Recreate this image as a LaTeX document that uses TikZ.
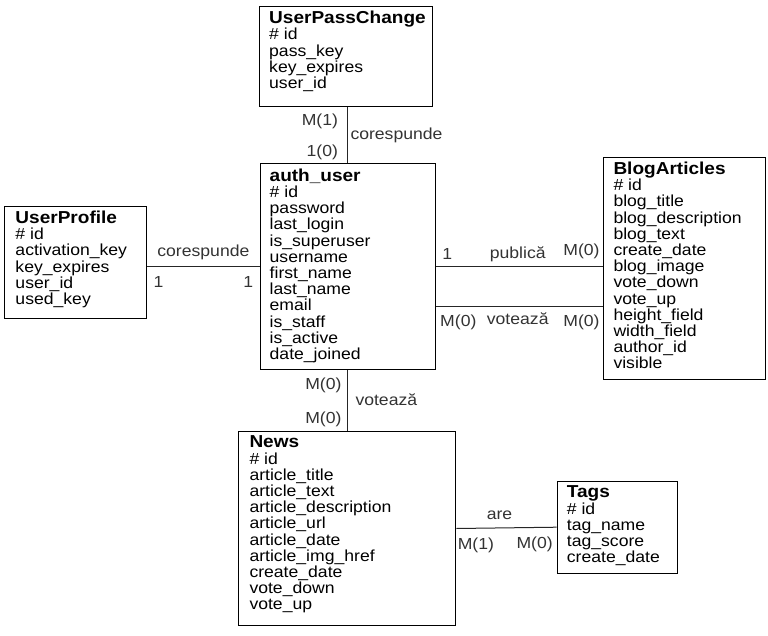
\documentclass[tikz,border=0pt]{standalone}
\usepackage{fontspec}
\setmainfont[FakeStretch=1.1]{Liberation Sans}
\usetikzlibrary{positioning}

\tikzset{
  entity/.style={draw, line width=1pt, anchor=north west, inner sep=0pt},
  fields/.style={anchor=north west, align=left, inner sep=0pt, font=\fontsize{16}{16.2}\selectfont},
  rel/.style={line width=1pt, black!85},
  card/.style={inner sep=1pt, text height=11.5pt, text depth=3.5pt, font=\fontsize{16}{16}\selectfont, text=black!80},
}
\newcommand{\etitle}[1]{{\bfseries\fontsize{17.3}{16.2}\selectfont #1}}

\begin{document}
\begin{tikzpicture}[x=1pt, y=-1pt]
\useasboundingbox (0,0) rectangle (768,636);

% tables
\node[entity, minimum width=173pt, minimum height=100pt] (passchange) at (259,6) {};
\node[entity, minimum width=175pt, minimum height=205.5pt] (auth) at (259.5,163.5) {};
\node[entity, minimum width=142pt, minimum height=112.3pt] (profile) at (4.3,205.7) {};
\node[entity, minimum width=161.7pt, minimum height=222.3pt] (blog) at (603.3,156.7) {};
\node[entity, minimum width=217pt, minimum height=194.6pt] (news) at (238.3,430.7) {};
\node[entity, minimum width=120.6pt, minimum height=92pt] (tags) at (556.7,480.7) {};

% columns
\node[fields] (passchangecols) at ([shift={(10pt,-5pt)}]passchange.north west)
  {\etitle{UserPassChange}\\\# id\\pass\_key\\key\_expires\\user\_id};
\node[fields] (authcols) at ([shift={(10pt,-5pt)}]auth.north west)
  {\etitle{auth\_user}\\\# id\\password\\last\_login\\is\_superuser\\username\\first\_name\\last\_name\\email\\is\_staff\\is\_active\\date\_joined};
\node[fields] (profilecols) at ([shift={(11pt,-5pt)}]profile.north west)
  {\etitle{UserProfile}\\\# id\\activation\_key\\key\_expires\\user\_id\\used\_key};
\node[fields] (blogcols) at ([shift={(10pt,-5pt)}]blog.north west)
  {\etitle{BlogArticles}\\\# id\\blog\_title\\blog\_description\\blog\_text\\create\_date\\blog\_image\\vote\_down\\vote\_up\\height\_field\\width\_field\\author\_id\\visible};
\node[fields] (newscols) at ([shift={(11pt,-5pt)}]news.north west)
  {\etitle{News}\\\# id\\article\_title\\article\_text\\article\_description\\article\_url\\article\_date\\article\_img\_href\\create\_date\\vote\_down\\vote\_up};
\node[fields] (tagscols) at ([shift={(10pt,-5pt)}]tags.north west)
  {\etitle{Tags}\\\# id\\tag\_name\\tag\_score\\create\_date};

% relations
\draw[rel] (passchange.south -| auth.north) -- (auth.north)
  node[card, pos=0.25, left=8pt] (passm) {M(1)}
  node[card, pos=0.8, left=8pt] (passo) {1(0)}
  node[card, pos=0.51, right=1.5pt] (passrel) {corespunde};
\draw[rel] (profile.east |- auth.west) -- (auth.west)
  node[card, pos=0.5, above=5.5pt] (profrel) {corespunde}
  node[card, pos=0.1, below=8pt] (profa) {1}
  node[card, pos=0.9, below=8pt] (profb) {1};
\draw[rel] (auth.east) -- (auth.east -| blog.west)
  node[card, pos=0.07, above=2.5pt] (puba) {1}
  node[card, pos=0.49, above=3pt] (pubrel) {publică}
  node[card, pos=0.87, above=6.5pt] (pubb) {M(0)};
\draw[rel] ([yshift=-40pt]auth.east) -- ([yshift=-40pt]auth.east -| blog.west)
  node[card, pos=0.136, below=7pt] (vota) {M(0)}
  node[card, pos=0.49, below=4.5pt] (votrel) {votează}
  node[card, pos=0.87, below=7pt] (votb) {M(0)};
\draw[rel] (auth.south) -- (auth.south |- news.north)
  node[card, pos=0.25, left=4.5pt] (nvota) {M(0)}
  node[card, pos=0.52, right=6.5pt] (nvotrel) {votează}
  node[card, pos=0.82, left=4.5pt] (nvotb) {M(0)};
\draw[rel] (news.east) -- (tags.west)
  node[card, pos=0.43, above=3pt] (arerel) {are}
  node[card, pos=0.195, below=8.3pt] (area) {M(1)}
  node[card, pos=0.78, below=8.3pt] (areb) {M(0)};
\end{tikzpicture}
\end{document}
